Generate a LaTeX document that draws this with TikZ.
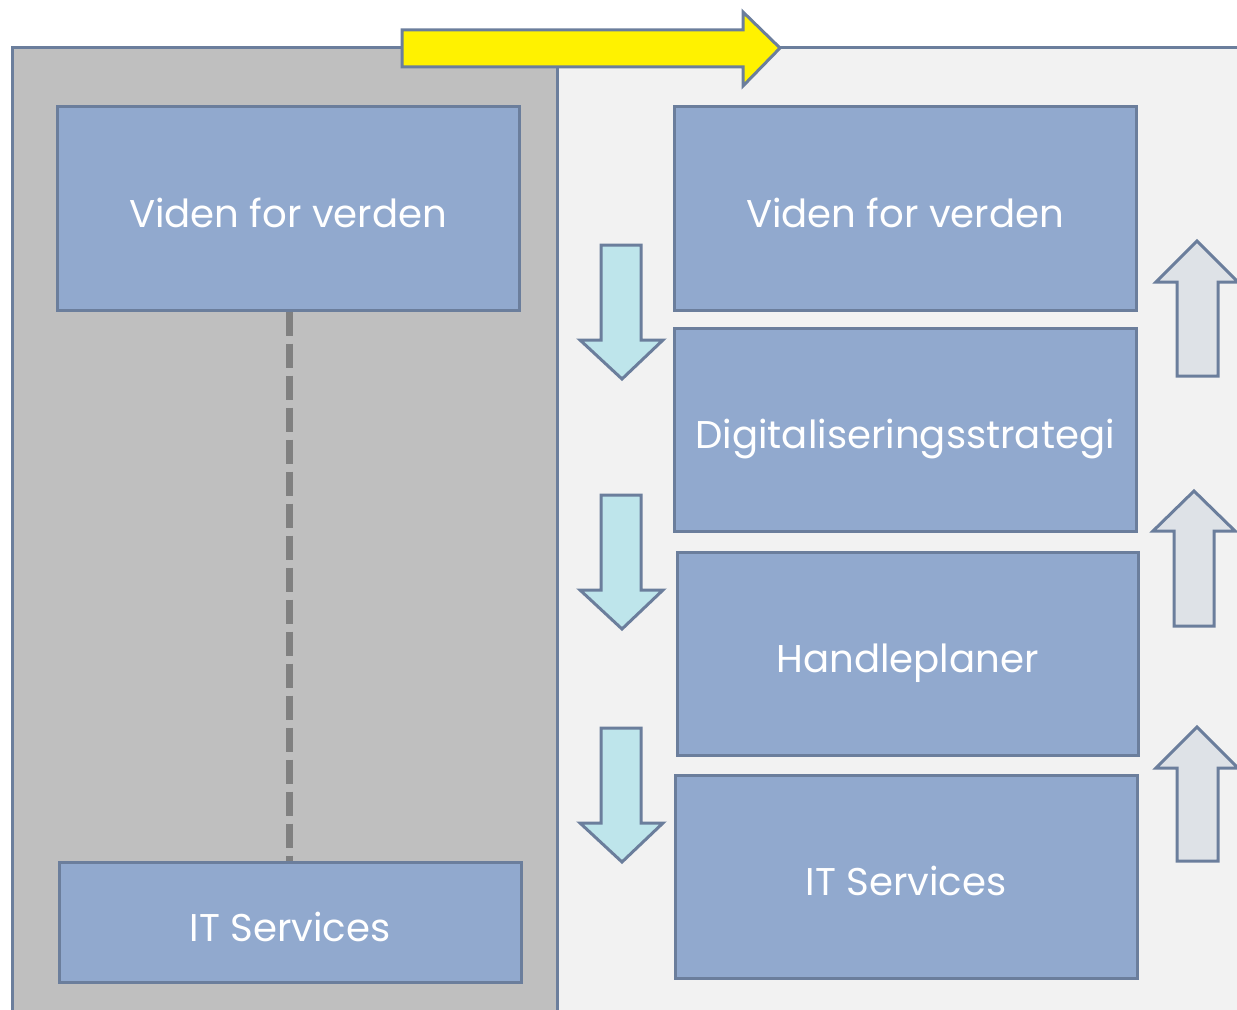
\documentclass[tikz,border=0pt]{standalone}
\usepackage{fontspec}
\setmainfont{Poppins}
\definecolor{boxfill}{HTML}{91A9CE}
\definecolor{edge}{HTML}{6B7E9C}
\definecolor{panelL}{HTML}{BFBFBF}
\definecolor{panelR}{HTML}{F2F2F2}
\definecolor{downfill}{HTML}{BEE5EB}
\definecolor{upfill}{HTML}{DEE2E7}
\definecolor{dashgray}{HTML}{808080}
\tikzset{
  blockbox/.style={draw=edge, fill=boxfill, line width=2.25pt, text=white,
    font=\fontsize{29}{34}\selectfont, minimum width=346.5pt, minimum height=152.25pt,
    inner sep=0pt, anchor=center, text height=29.2pt, text depth=0pt},
  panel/.style={draw=edge, line width=2.25pt},
  downarrow/.style={draw=edge, fill=downfill, line width=2.25pt, line join=miter},
  uparrow/.style={draw=edge, fill=upfill, line width=2.25pt, line join=miter},
  linkdash/.style={draw=dashgray, line width=5.25pt, dash pattern=on 18pt off 6pt}
}
\begin{document}
\begin{tikzpicture}[x=0.75pt, y=-0.75pt]
\useasboundingbox (0,0) rectangle (1237,1009);
\clip (0,0) rectangle (1237,1009);
% panels
\path[panel, fill=panelR] (557,48) rectangle (1250,1020);
\path[panel, fill=panelL] (12,48) rectangle (557,1020);
% yellow arrow
\path[draw=edge, fill=yellow, line width=2.25pt, line join=miter]
  (402,30) -- (743,30) -- (743,12) -- (780,48) -- (743,86) -- (743,67) -- (402,67) -- cycle;
% left boxes
\node[blockbox] (L1) at (288,208.5) {Viden for verden};
\node[blockbox, minimum height=90pt] (L2) at (290,922) {IT Services};
\draw[linkdash] ([xshift=0.75pt]L1.south) -- ([xshift=-0.75pt]L2.north);
% right boxes
\node[blockbox] (R1) at (905,208.5) {Viden for verden};
\node[blockbox] (R2) at (905,429.5) {Digitaliseringsstrategi};
\node[blockbox, minimum width=345.75pt] (R3) at (907.5,653.5) {Handleplaner};
\node[blockbox] (R4) at (906,876.5) {IT Services};
% down arrows
\path[downarrow] (601,245) -- (641,245) -- (641,340) -- (663,340) -- (622,379) -- (580,340) -- (601,340) -- cycle;
\path[downarrow] (601,495) -- (641,495) -- (641,590) -- (663,590) -- (622,629) -- (580,590) -- (601,590) -- cycle;
\path[downarrow] (601,728) -- (641,728) -- (641,823) -- (663,823) -- (622,862) -- (580,823) -- (601,823) -- cycle;
% up arrows
\path[uparrow] (1177,376) -- (1218,376) -- (1218,282) -- (1238,282) -- (1197,241) -- (1156,282) -- (1177,282) -- cycle;
\path[uparrow] (1174,626) -- (1214,626) -- (1214,531) -- (1235,531) -- (1194,491) -- (1153,531) -- (1174,531) -- cycle;
\path[uparrow] (1177,861) -- (1218,861) -- (1218,768) -- (1238,768) -- (1197,727) -- (1156,768) -- (1177,768) -- cycle;
\end{tikzpicture}
\end{document}
